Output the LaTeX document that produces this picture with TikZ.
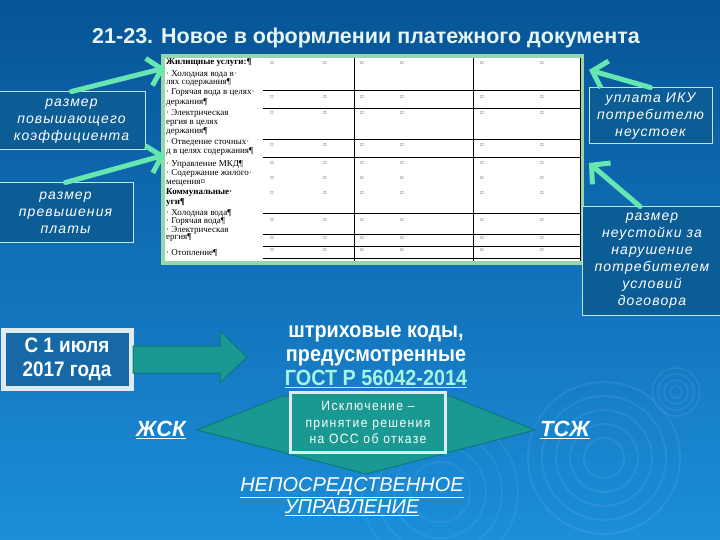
\documentclass[tikz,border=0pt]{standalone}
\usepackage{fontspec}
\setmainfont{Liberation Sans}
\newfontfamily\tabfont{Liberation Serif}
\newfontfamily\narrowfont[FakeStretch=0.9]{Liberation Sans}
\newfontfamily\spacedfont[LetterSpace=8]{Liberation Sans}
\newfontfamily\spacednarrow[FakeStretch=0.9,LetterSpace=10]{Liberation Sans}
\usetikzlibrary{arrows.meta}

\definecolor{bgtop}{RGB}{6,84,150}
\definecolor{bgbot}{RGB}{28,142,218}
\definecolor{boxblue}{RGB}{12,92,150}
\definecolor{boxline}{RGB}{190,228,238}
\definecolor{mint}{RGB}{104,230,178}
\definecolor{tealfill}{RGB}{26,152,146}
\definecolor{tealline}{RGB}{14,118,124}
\definecolor{datefill}{RGB}{22,104,166}
\definecolor{paleline}{RGB}{222,236,240}
\definecolor{tablegreen}{RGB}{150,214,170}
\definecolor{titlecol}{RGB}{230,246,246}
\definecolor{gostcol}{RGB}{166,244,228}

\begin{document}
\begin{tikzpicture}[x=1pt,y=1pt,yscale=-1,
	sidebox/.style={draw=boxline, line width=1pt, fill=boxblue, text=white, align=center, inner sep=0pt, font=\spacedfont\itshape\fontsize{14}{17}\selectfont},
	pointer/.style={draw=mint, line width=5pt, line cap=round, -{Straight Barb[length=13pt,width=28pt]}},
	tablebox/.style={draw=tablegreen, line width=4pt, fill=white, minimum width=419pt, minimum height=207pt, inner sep=0pt},
	cellrule/.style={draw=black, line width=1pt},
	cellmark/.style={text=black!55, font=\tabfont\fontsize{7.5}{7.5}\selectfont, inner sep=0pt},
	rowtext/.style={anchor=west, text=black, font=\tabfont\fontsize{9}{9}\selectfont, inner sep=0pt},
	blockarrow/.style={fill=tealfill, draw=tealline, line width=1pt},
	lighttext/.style={text=white, align=center, inner sep=0pt}]
	\useasboundingbox (0,0) rectangle (720,540);

	% Background
	\shade[top color=bgtop, bottom color=bgbot] (0,0) rectangle (720,540);
	\foreach \r in {6,12,18,24} \draw[white, opacity=0.08, line width=1.5pt] (676,392) circle [radius=\r];
	\foreach \r in {20,34,48,62,76} \draw[white, opacity=0.07, line width=2pt] (604,458) circle [radius=\r];
	\foreach \r in {30,46,62,78} \draw[white, opacity=0.06, line width=2pt] (440,492) circle [radius=\r];

	% Title
	\node[lighttext, text=titlecol, font=\bfseries\fontsize{21.5}{24}\selectfont] (title) at (366,38) {21-23. Новое в оформлении платежного документа};

	% Table
	\node[tablebox] (tbl) at (372.5,159.5) {};
	\foreach \y in {91,109,140,158,214,234,246,258}
		\draw[cellrule] (263,\y) -- (580,\y);
	\foreach \x in {354,473,580}
		\draw[cellrule] (\x,58) -- (\x,261);
	\foreach \y [count=\i] in {63,97,113,145,163,178,193,220,238,250}
		\foreach \x [count=\j] in {272,325,362,402,482,542}
			\node[cellmark] (mark\i-\j) at (\x,\y) {¤};
	\node[rowtext, font=\tabfont\bfseries\fontsize{9}{9}\selectfont] (row1) at (166,63) {Жилищные услуги:¶};
	\foreach \y/\t [count=\i from 2] in {74/{· Холодная вода в·}, 83/{лях содержания¶}, 93/{· Горячая вода в целях·}, 103/{держания¶},
		113/{· Электрическая}, 123/{ергия в целях}, 132/{держания¶}, 142/{· Отведение сточных·}, 152/{д в целях содержания¶},
		165/{· Управление МКД¶}, 173/{· Содержание жилого·}, 183/{мещения¤}}
		\node[rowtext] (row\i) at (166,\y) {\t};
	\node[rowtext, font=\tabfont\bfseries\fontsize{9}{9}\selectfont] (row14) at (166,193) {Коммунальные·};
	\node[rowtext, font=\tabfont\bfseries\fontsize{9}{9}\selectfont] (row15) at (166,203) {уги¶};
	\foreach \y/\t [count=\i from 16] in {213/{· Холодная вода¶}, 222/{· Горячая вода¶}, 230/{· Электрическая}, 238/{ергия¶}, 253/{· Отопление¶}}
		\node[rowtext] (row\i) at (166,\y) {\t};

	% Side notes
	\node[sidebox, minimum width=147pt, minimum height=58pt] (raise) at (71.5,121) {размер\\повышающего\\коэффициента};
	\node[sidebox, minimum width=135pt, minimum height=59pt] (excess) at (65.5,212.5) {размер\\превышения\\платы};
	\node[sidebox, minimum width=123pt, minimum height=56pt] (fine) at (650.5,116) {уплата ИКУ\\потребителю\\неустоек};
	\node[sidebox, minimum width=140pt, minimum height=108pt] (penalty) at (652,261) {размер\\неустойки за\\нарушение\\потребителем\\условий\\договора};

	% Pointers
	\coordinate (tipA) at (165,68);
	\coordinate (tipB) at (165,155);
	\coordinate (tipC) at (589,70);
	\coordinate (tipD) at (589,163);
	\draw[pointer] (raise.north) -- (tipA);
	\draw[pointer] (excess.north) -- (tipB);
	\draw[pointer] (fine.north) -- (tipC);
	\draw[pointer] ([xshift=-12pt]penalty.north) -- (tipD);

	% Since July 2017
	\node[lighttext, draw=paleline, fill=datefill, line width=5pt, minimum width=128pt, minimum height=58pt, font=\narrowfont\bfseries\fontsize{21}{24}\selectfont] (since) at (67,359) {С 1 июля\\2017 года};
	\draw[blockarrow] (133,346) -- (220,346) -- (220,331) -- (247,357) -- (220,383) -- (220,373) -- (133,373) -- cycle;
	\node[lighttext, font=\narrowfont\bfseries\fontsize{22}{24}\selectfont] (codes) at (376,357) {штриховые коды,\\предусмотренные\\\textcolor{gostcol}{\underline{ГОСТ Р 56042-2014}}};

	% Exception
	\draw[blockarrow] (282,396) -- (450,396) -- (535,430) -- (366,474) -- (197,430) -- cycle;
	\node[lighttext, draw=paleline, fill=tealfill, line width=3.5pt, minimum width=155pt, minimum height=60pt, font=\spacednarrow\fontsize{13.5}{16.5}\selectfont] (except) at (368,422.5) {Исключение –\\принятие решения\\на ОСС об отказе};
	\node[lighttext, font=\bfseries\itshape\fontsize{22}{24}\selectfont] (zhsk) at (161,430) {\underline{ЖСК}};
	\node[lighttext, font=\bfseries\itshape\fontsize{22}{24}\selectfont] (tszh) at (565,430) {\underline{ТСЖ}};
	\node[lighttext, font=\itshape\fontsize{20}{22}\selectfont] (direct) at (352,497) {\underline{НЕПОСРЕДСТВЕННОЕ}\\\underline{УПРАВЛЕНИЕ}};
\end{tikzpicture}
\end{document}
